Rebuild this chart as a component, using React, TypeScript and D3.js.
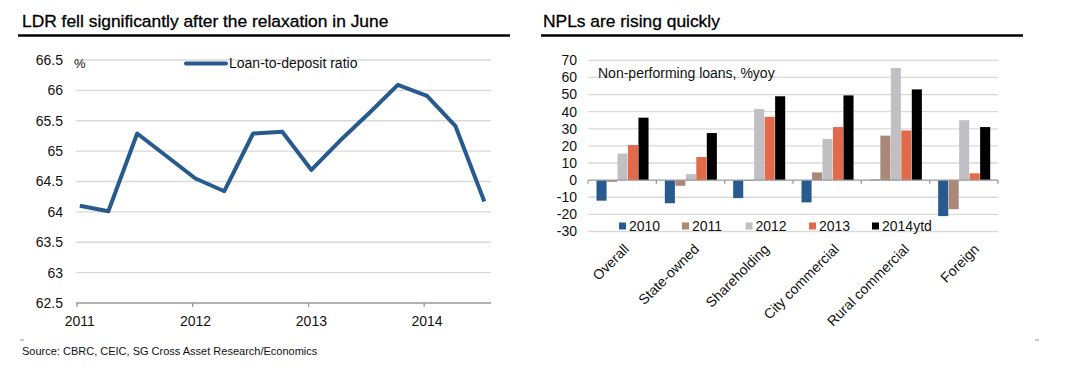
import React, { useEffect, useRef } from 'react';
import * as d3 from 'd3';

// Left chart: loan-to-deposit ratio, quarterly
const ldrDates = [
  '2011-01-10', '2011-04-10', '2011-07-10', '2011-10-10',
  '2012-01-10', '2012-04-10', '2012-07-10', '2012-10-10',
  '2013-01-10', '2013-04-10', '2013-07-10', '2013-10-10',
  '2014-01-10', '2014-04-10', '2014-07-10',
];
const ldrValues = [64.1, 64.01, 65.29, 64.92, 64.55, 64.34, 65.29, 65.32, 64.69, 65.17, 65.62, 66.09, 65.91, 65.41, 64.17];
const ldrYTicks = [62.5, 63, 63.5, 64, 64.5, 65, 65.5, 66, 66.5];
const ldrYears = ['2011', '2012', '2013', '2014'];

// Right chart: NPL growth by bank type
const nplCategories = ['Overall', 'State-owned', 'Shareholding', 'City commercial', 'Rural commercial', 'Foreign'];
const nplSeries = ['2010', '2011', '2012', '2013', '2014ytd'];
const nplColors = ['#275a8f', '#ab8979', '#c0c0c4', '#e2694a', '#000000'];
const npl2010 = [-12, -13.5, -10.5, -13, 0.3, -21];
const npl2011 = [-1, -3.3, -0.5, 4.5, 26, -17];
const npl2012 = [15.5, 3.5, 41.5, 24, 65.5, 35];
const npl2013 = [20.5, 13.5, 37, 31, 29, 4];
const npl2014 = [36.5, 27.5, 49, 49.5, 53, 31];
const nplYTicks = [-30, -20, -10, 0, 10, 20, 30, 40, 50, 60, 70];

const FONT = '"Liberation Sans", Arial, Helvetica, sans-serif';

const App: React.FC = () => {
  const ref = useRef<SVGSVGElement | null>(null);

  useEffect(() => {
    if (!ref.current) return;
    const svg = d3.select(ref.current);
    svg.selectAll('*').remove();
    svg.style('font-family', FONT);

    // ---------- titles ----------
    svg.append('text').attr('x', 22).attr('y', 27).attr('font-size', 17.4).attr('fill', '#000')
      .attr('stroke', '#000').attr('stroke-width', 0.3)
      .text('LDR fell significantly after the relaxation in June');
    svg.append('line').attr('x1', 18).attr('x2', 510).attr('y1', 35.5).attr('y2', 35.5)
      .attr('stroke', '#000').attr('stroke-width', 2.5);

    svg.append('text').attr('x', 543).attr('y', 27).attr('font-size', 17.4).attr('fill', '#000')
      .attr('stroke', '#000').attr('stroke-width', 0.3)
      .text('NPLs are rising quickly');
    svg.append('line').attr('x1', 541).attr('x2', 1023).attr('y1', 35.5).attr('y2', 35.5)
      .attr('stroke', '#000').attr('stroke-width', 2.5);

    // ---------- left chart ----------
    const parse = d3.timeParse('%Y-%m-%d');
    const dates = ldrDates.map((d) => parse(d) as Date);
    const x = d3.scaleTime()
      .domain([parse('2011-01-01') as Date, parse('2014-07-31') as Date])
      .range([77, 491]);
    const y = d3.scaleLinear().domain([62.5, 66.5]).range([303, 60]);

    const left = svg.append('g');
    left.selectAll('line.grid').data(ldrYTicks.filter((t) => t !== 62.5)).enter().append('line')
      .attr('x1', 76).attr('x2', 491)
      .attr('y1', (d) => y(d)).attr('y2', (d) => y(d))
      .attr('stroke', '#d9d9d9').attr('stroke-width', 1.3);

    left.selectAll('text.yt').data(ldrYTicks).enter().append('text')
      .attr('x', 63).attr('y', (d) => y(d)).attr('dy', '0.35em')
      .attr('text-anchor', 'end').attr('font-size', 14).attr('fill', '#111')
      .text((d) => String(d));

    left.append('text').attr('x', 74).attr('y', 68).attr('font-size', 13).attr('fill', '#111').text('%');

    // x axis
    left.append('line').attr('x1', 76).attr('x2', 491).attr('y1', y(62.5)).attr('y2', y(62.5))
      .attr('stroke', '#999').attr('stroke-width', 1.3);
    left.selectAll('line.xt').data(ldrYears).enter().append('line')
      .attr('x1', (d) => x(parse(d + '-01-01') as Date)).attr('x2', (d) => x(parse(d + '-01-01') as Date))
      .attr('y1', y(62.5)).attr('y2', y(62.5) + 4)
      .attr('stroke', '#999').attr('stroke-width', 1.3);
    left.selectAll('text.xl').data(ldrYears).enter().append('text')
      .attr('x', (d) => x(parse(d + '-01-10') as Date)).attr('y', 325.5)
      .attr('text-anchor', 'middle').attr('font-size', 14).attr('fill', '#111')
      .text((d) => d);

    const line = d3.line<number>()
      .x((_, i) => x(dates[i]))
      .y((d) => y(d));
    left.append('path').datum(ldrValues).attr('d', line)
      .attr('fill', 'none').attr('stroke', '#285a8e').attr('stroke-width', 4)
      .attr('stroke-linejoin', 'round');

    // legend
    left.append('line').attr('x1', 186).attr('x2', 226).attr('y1', 63.5).attr('y2', 63.5)
      .attr('stroke', '#285a8e').attr('stroke-width', 4).attr('stroke-linecap', 'round');
    left.append('text').attr('x', 229).attr('y', 63.5).attr('dy', '0.35em')
      .attr('font-size', 14).attr('fill', '#111').text('Loan-to-deposit ratio');

    // ---------- right chart ----------
    const values = [npl2010, npl2011, npl2012, npl2013, npl2014];
    const x0 = d3.scaleBand().domain(nplCategories).range([588, 998]).padding(0);
    const x1 = d3.scaleBand().domain(nplSeries).range([8.5, x0.bandwidth() - 7.8]).paddingInner(0.04);
    const yr = d3.scaleLinear().domain([-30, 70]).range([231.5, 60.3]);
    // rotated labels sit on a slightly wider spread than the bars
    const xl = d3.scalePoint().domain(nplCategories).range([623, 973]);

    const right = svg.append('g');
    right.selectAll('line.grid').data(nplYTicks.filter((t) => t !== 0)).enter().append('line')
      .attr('x1', 588).attr('x2', 998)
      .attr('y1', (d) => yr(d)).attr('y2', (d) => yr(d))
      .attr('stroke', '#d9d9d9').attr('stroke-width', 1.3);
    right.selectAll('text.yt').data(nplYTicks).enter().append('text')
      .attr('x', 577).attr('y', (d) => yr(d)).attr('dy', '0.35em')
      .attr('text-anchor', 'end').attr('font-size', 14).attr('fill', '#111')
      .text((d) => String(d));

    right.append('text').attr('x', 598).attr('y', 77.5).attr('font-size', 14).attr('fill', '#111')
      .text('Non-performing loans, %yoy');

    nplSeries.forEach((s, si) => {
      right.append('g').selectAll('rect').data(values[si]).enter().append('rect')
        .attr('x', (_, i) => (x0(nplCategories[i]) as number) + (x1(s) as number))
        .attr('width', x1.bandwidth())
        .attr('y', (d) => yr(Math.max(0, d)))
        .attr('height', (d) => Math.abs(yr(d) - yr(0)))
        .attr('fill', nplColors[si]);
    });

    // zero axis with category ticks
    right.append('line').attr('x1', 588).attr('x2', 998).attr('y1', yr(0)).attr('y2', yr(0))
      .attr('stroke', '#999').attr('stroke-width', 1.3);
    const bounds = [...nplCategories.map((c) => x0(c) as number), 998];
    right.selectAll('line.ct').data(bounds).enter().append('line')
      .attr('x1', (d) => d).attr('x2', (d) => d)
      .attr('y1', yr(0)).attr('y2', yr(0) + 3.5)
      .attr('stroke', '#999').attr('stroke-width', 1.3);

    // category labels, rotated
    right.selectAll('text.cl').data(nplCategories).enter().append('text')
      .attr('transform', (d) => `translate(${xl(d) as number},${243}) rotate(-45)`)
      .attr('text-anchor', 'end').attr('dy', '0.7em')
      .attr('font-size', 14).attr('fill', '#111')
      .text((d) => d);

    // legend
    const legendX = d3.scaleOrdinal<string, number>().domain(nplSeries).range([619, 682, 745.5, 809, 872]);
    const lg = right.append('g');
    nplSeries.forEach((s, si) => {
      lg.append('rect').attr('x', legendX(s)).attr('y', 222.5).attr('width', 7).attr('height', 7)
        .attr('fill', nplColors[si]);
      lg.append('text').attr('x', legendX(s) + 10).attr('y', 226).attr('dy', '0.35em')
        .attr('font-size', 14).attr('fill', '#111').text(s);
    });

    // source
    svg.append('line').attr('x1', 20).attr('x2', 24).attr('y1', 340).attr('y2', 340)
      .attr('stroke', '#999').attr('stroke-width', 1);
    svg.append('line').attr('x1', 1035).attr('x2', 1039).attr('y1', 340).attr('y2', 340)
      .attr('stroke', '#999').attr('stroke-width', 1);
    svg.append('text').attr('x', 22).attr('y', 355).attr('font-size', 11).attr('fill', '#111')
      .text('Source: CBRC, CEIC, SG Cross Asset Research/Economics');
  }, []);

  return (
    <svg
      ref={ref}
      width={1068}
      height={389}
      style={{ position: 'absolute', left: 0, top: 0, background: '#fff' }}
    ></svg>
  );
};

export default App;
